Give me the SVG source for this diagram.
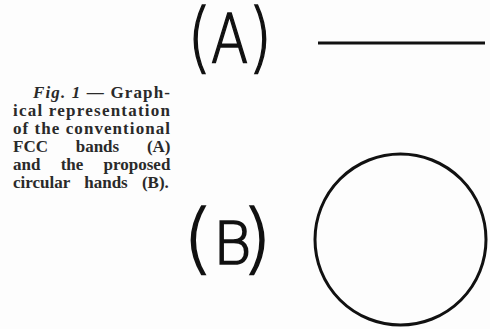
<svg xmlns="http://www.w3.org/2000/svg" width="490" height="329" viewBox="0 0 490 329">
<style>
.cap{font-family:"Liberation Serif",serif;font-weight:bold;font-size:17px;fill:#2a2a2a}
.lbl{font-family:"DejaVu Sans","Liberation Sans",sans-serif;font-weight:200;fill:#111;stroke:#111;stroke-width:1.6}
.band{fill:none;stroke:#111;stroke-width:3}
</style>
<rect width="490" height="329" fill="#fdfdfd"/>
<g id="caption">
<text class="cap" x="33" y="98" textLength="137" lengthAdjust="spacing"><tspan font-style="italic">Fig. 1</tspan> — Graph-</text>
<text class="cap" x="13" y="116" textLength="157" lengthAdjust="spacing">ical representation</text>
<text class="cap" x="13" y="134" textLength="157" lengthAdjust="spacing">of the conventional</text>
<text class="cap" x="13" y="152" word-spacing="23.5">FCC bands (A)</text>
<text class="cap" x="13" y="170" word-spacing="16">and the proposed</text>
<text class="cap" x="13" y="188" word-spacing="10">circular hands (B).</text>
</g>
<g id="label-a">
<text class="lbl" transform="translate(193,63) scale(0.8,1)" x="-7" y="0"><tspan font-size="76">(</tspan><tspan font-size="68">A</tspan><tspan font-size="76">)</tspan></text>
</g>
<g id="band-a">
<line class="band" x1="318" y1="43" x2="485" y2="43"/>
</g>
<g id="label-b">
<text class="lbl" x="183" y="264"><tspan font-size="77">(</tspan><tspan font-size="59">B</tspan><tspan font-size="77" dx="-10">)</tspan></text>
</g>
<g id="band-b">
<circle class="band" cx="400.5" cy="239.5" r="85.5"/>
</g>
</svg>
